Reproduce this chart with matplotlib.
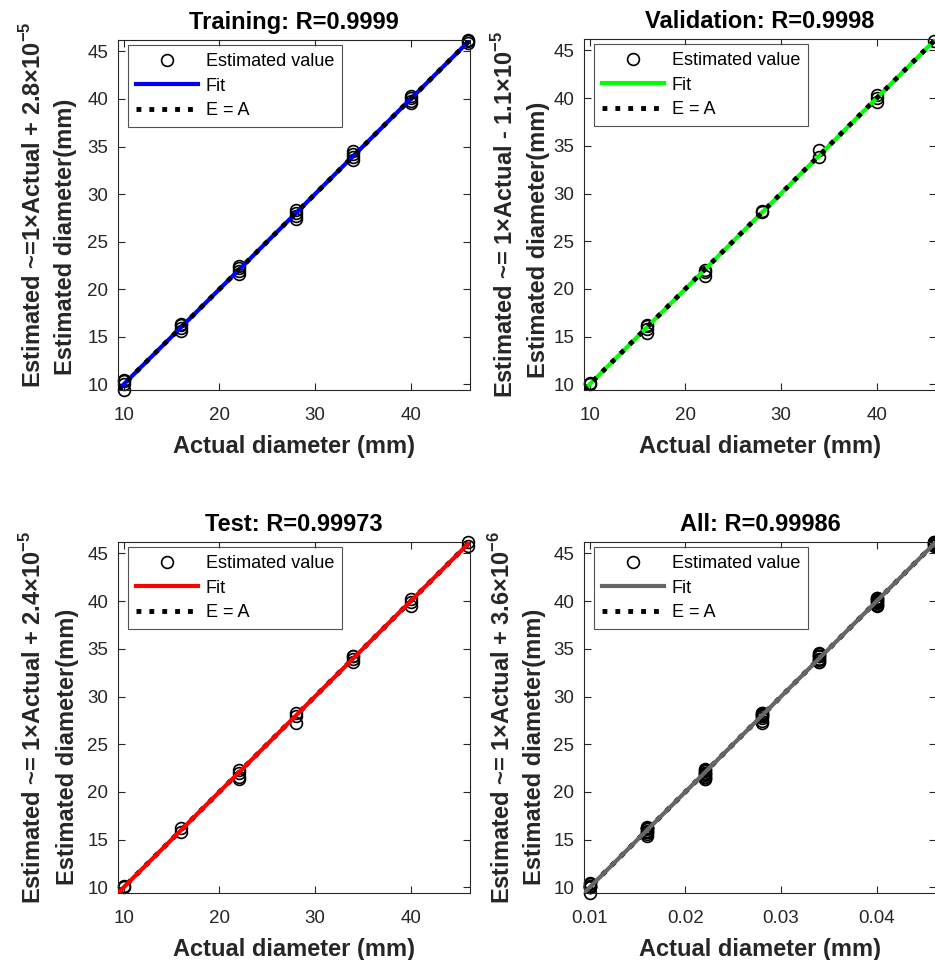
import matplotlib
matplotlib.use("Agg")
import matplotlib.pyplot as plt
import numpy as np

plt.rcParams['font.family'] = ['Liberation Sans', 'DejaVu Sans']
plt.rcParams['mathtext.fontset'] = 'custom'
plt.rcParams['mathtext.rm'] = 'Liberation Sans'
plt.rcParams['mathtext.bf'] = 'Liberation Sans:bold'

# ---- data (mm) ----
train_actual = [10, 10, 10, 10, 16, 16, 16, 16, 22, 22, 22, 22, 28, 28, 28, 28,
                34, 34, 34, 34, 40, 40, 40, 40, 46, 46, 46]
train_est = [9.4, 10.0, 10.3, 10.5, 15.6, 15.9, 16.2, 16.3, 21.6, 21.9, 22.2, 22.4,
             27.4, 27.7, 28.0, 28.3, 33.6, 33.9, 34.2, 34.5, 39.6, 39.8, 40.1, 40.3,
             45.9, 46.1, 46.2]
val_actual = [10, 10, 16, 16, 16, 16, 22, 22, 22, 28, 28, 34, 34, 40, 40, 40, 46]
val_est = [10.0, 10.1, 15.4, 15.8, 16.1, 16.2, 21.3, 21.8, 22.0, 28.1, 28.2,
           33.8, 34.6, 39.6, 40.0, 40.3, 46.0]
test_actual = [10, 10, 16, 16, 22, 22, 22, 22, 28, 28, 28, 34, 34, 34, 34, 40, 40, 40, 46, 46]
test_est = [10.0, 10.1, 15.8, 16.2, 21.3, 21.6, 22.0, 22.3, 27.2, 28.0, 28.3,
            33.6, 33.9, 34.2, 34.3, 39.5, 39.9, 40.2, 45.8, 46.2]

titles = ["Training: R=0.9999", "Validation: R=0.9998", "Test: R=0.99973", "All: R=0.99986"]
eq_labels = [r"Estimated ~=1×Actual + 2.8×10$^{\mathbf{-5}}$",
             r"Estimated ~= 1×Actual - 1.1×10$^{\mathbf{-5}}$",
             r"Estimated ~= 1×Actual + 2.4×10$^{\mathbf{-5}}$",
             r"Estimated ~= 1×Actual + 3.6×10$^{\mathbf{-6}}$"]
fit_slope = [1.0, 1.0, 1.0, 1.0]
fit_offset = [2.8e-5, -1.1e-5, 2.4e-5, 3.6e-6]
fit_colors = ["#0000ff", "#00ff00", "#ff0000", "#666666"]
lim_lo, lim_hi = 9.4, 46.2

W, H = 935, 960
fig = plt.figure(figsize=(W / 100, H / 100), dpi=100)

def ax_at(left, top, w, h):
    return fig.add_axes([left / W, 1 - (top + h) / H, w / W, h / H])

axes_px = [(118, 40, 352, 350), (584, 39, 352, 351), (118, 542, 352, 351), (584, 542, 352, 351)]
ylab1_px = [(33, 205), (505, 214), (33, 717), (502, 717)]
ylab2_px = [(66, 237), (538, 240), (68, 747), (535, 747)]

datasets = [(train_actual, train_est), (val_actual, val_est), (test_actual, test_est),
            (train_actual + val_actual + test_actual, train_est + val_est + test_est)]

axc = '#262626'
for i in range(4):
    ax = ax_at(*axes_px[i])
    act, est = datasets[i]
    scale = 1000.0 if i == 3 else 1.0
    x = np.array(act, float) / scale
    y = np.array(est, float)
    xl = np.array([lim_lo, lim_hi]) / scale
    yfit = fit_slope[i] * xl * scale + fit_offset[i]
    yeq = xl * scale
    dots_on_top = i < 2
    ax.plot(x, y, 'o', ms=8.5, mfc='none', mec='black', mew=1.2, clip_on=False,
            zorder=2, label='Estimated value')
    ax.plot(xl, yfit, '-', color=fit_colors[i], lw=3, zorder=3 if dots_on_top else 5,
            label='Fit')
    ax.plot(xl, yeq, ':', color='black', lw=3.5, zorder=4, label='E = A')
    ax.set_xlim(xl)
    ax.set_ylim(lim_lo, lim_hi)
    ax.set_yticks([10, 15, 20, 25, 30, 35, 40, 45])
    if i == 3:
        ax.set_xticks([0.01, 0.02, 0.03, 0.04])
        ax.set_xticklabels(['0.01', '0.02', '0.03', '0.04'])
    else:
        ax.set_xticks([10, 20, 30, 40])
    ax.tick_params(direction='in', top=True, right=True, length=5, width=0.8,
                   labelsize=13.5, colors=axc)
    ax.tick_params(axis='x', pad=12)
    ax.tick_params(axis='y', pad=7)
    for s in ax.spines.values():
        s.set_color(axc)
        s.set_linewidth(0.8)
    ax.set_title(titles[i], fontsize=17, fontweight='bold', pad=8)
    ax.set_xlabel('Actual diameter (mm)', fontsize=17, fontweight='bold', color=axc, labelpad=8)
    aw, ah = axes_px[i][2], axes_px[i][3]
    leg = ax.legend(loc='upper left', bbox_to_anchor=(10 / aw, 1 - 5 / ah),
                    fontsize=13, frameon=True, fancybox=False,
                    handlelength=3.4, numpoints=1, borderaxespad=0.0,
                    labelspacing=0.42, handletextpad=0.45, borderpad=0.45)
    leg.get_frame().set_edgecolor(axc)
    leg.get_frame().set_linewidth(0.8)
    leg.set_zorder(10)
    x1, y1 = ylab1_px[i]
    fig.text(x1 / W, 1 - y1 / H, eq_labels[i], rotation=90, ha='center', va='center',
             fontsize=17, fontweight='bold', color=axc)
    x2, y2 = ylab2_px[i]
    fig.text(x2 / W, 1 - y2 / H, 'Estimated diameter(mm)', rotation=90, ha='center',
             va='center', fontsize=17, fontweight='bold', color=axc)

fig.savefig('out.png', dpi=100)
